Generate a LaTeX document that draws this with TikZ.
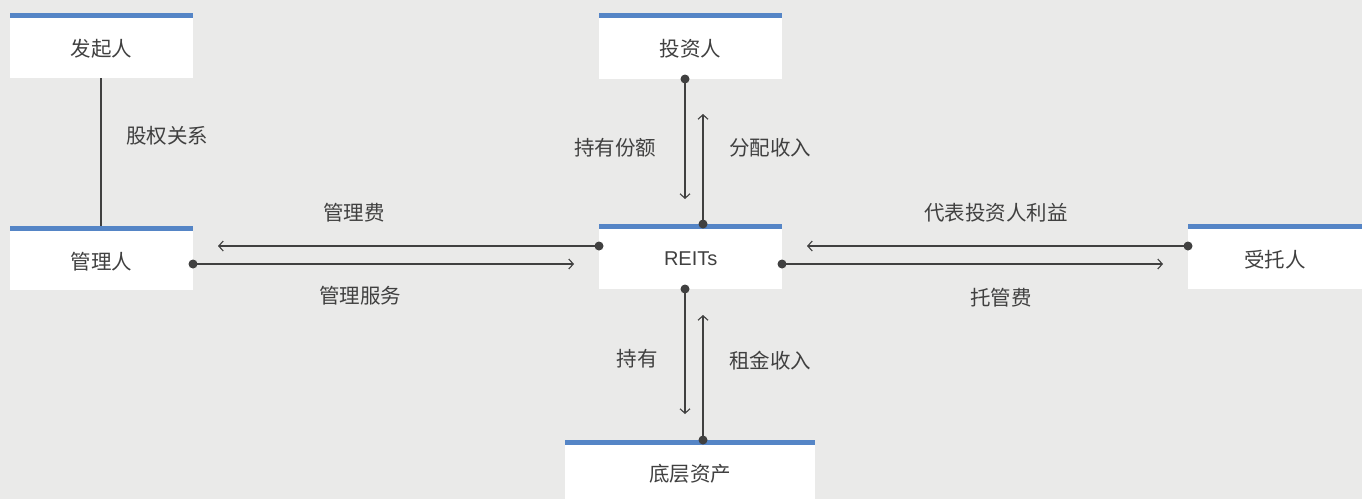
\documentclass[tikz,border=0pt]{standalone}
\usepackage{fontspec}
\setmainfont{Liberation Sans}
\newfontfamily\cjk{Noto Sans CJK SC}
\usetikzlibrary{arrows.meta,calc}
\definecolor{bg}{HTML}{EAEAE9}
\definecolor{topblue}{HTML}{5585C6}
\definecolor{ink}{HTML}{404040}
\tikzset{
  box/.style={fill=white, draw=none, inner sep=0pt, anchor=north west,
    path picture={\fill[topblue] (path picture bounding box.north west) rectangle ([yshift=-5pt]path picture bounding box.north east);}},
  conn/.style={draw=ink, line width=1.2pt},
  arr/.style={conn, -{Straight Barb[length=4.5pt,width=10pt,line width=1.1pt]}},
  dot/.style={fill=ink, draw=none, circle, minimum size=9pt, inner sep=0pt},
  lbl/.style={text=ink, font=\cjk\fontsize{20.5}{24}\selectfont, inner sep=0pt},
  boxtext/.style={lbl, yshift=-3pt}
}
\begin{document}
\begin{tikzpicture}[x=1pt,y=-1pt]
\useasboundingbox[fill=bg] (0,0) rectangle (1362,499);
% boxes
\node[box, minimum width=183pt, minimum height=65pt, label={[boxtext]center:发起人}] (fq) at (10,13) {};
\node[box, minimum width=183pt, minimum height=66pt, label={[boxtext]center:投资人}] (tz) at (599,13) {};
\node[box, minimum width=183pt, minimum height=64pt, label={[boxtext]center:管理人}] (gl) at (10,226) {};
\node[box, minimum width=183pt, minimum height=65pt, label={[boxtext, font=\fontsize{20}{24}\selectfont, yshift=0.5pt]center:REITs}] (re) at (599,224) {};
\node[box, minimum width=174pt, minimum height=65pt, label={[boxtext]center:受托人}] (st) at (1188,224) {};
\node[box, minimum width=250pt, minimum height=59pt, label={[boxtext, yshift=-1.5pt]center:底层资产}] (dc) at (565,440) {};
% coordinates
\coordinate (tzd) at (685,79);
\coordinate (tzdend) at (685,199);
\coordinate (ret) at (703,224);
\coordinate (retend) at (703,114);
\coordinate (rel) at (599,246);
\coordinate (relend) at (218,246);
\coordinate (glr) at (193,264);
\coordinate (glrend) at (574,264);
\coordinate (stl) at (1188,246);
\coordinate (stlend) at (807,246);
\coordinate (rer) at (782,264);
\coordinate (rerend) at (1163,264);
\coordinate (reb) at (685,289);
\coordinate (rebend) at (685,414);
\coordinate (dct) at (703,440);
\coordinate (dctend) at (703,315);
% connectors
\draw[conn] (fq.south -| 101,0) -- (gl.north -| 101,0);
\draw[arr] (tzd) -- (tzdend);
\draw[arr] (ret) -- (retend);
\draw[arr] (rel) -- (relend);
\draw[arr] (glr) -- (glrend);
\draw[arr] (stl) -- (stlend);
\draw[arr] (rer) -- (rerend);
\draw[arr] (reb) -- (rebend);
\draw[arr] (dct) -- (dctend);
% dots
\foreach \p in {tzd,ret,rel,glr,stl,rer,reb,dct} \node[dot] at (\p) {};
% labels
\node[lbl] (l1) at (167,136) {股权关系};
\node[lbl] (l2) at (615,148) {持有份额};
\node[lbl] (l3) at (770,148) {分配收入};
\node[lbl] (l4) at (354,213) {管理费};
\node[lbl] (l5) at (360,296) {管理服务};
\node[lbl] (l6) at (996,213) {代表投资人利益};
\node[lbl] (l7) at (1001,298) {托管费};
\node[lbl] (l8) at (637,359) {持有};
\node[lbl] (l9) at (770,361) {租金收入};
\end{tikzpicture}
\end{document}
